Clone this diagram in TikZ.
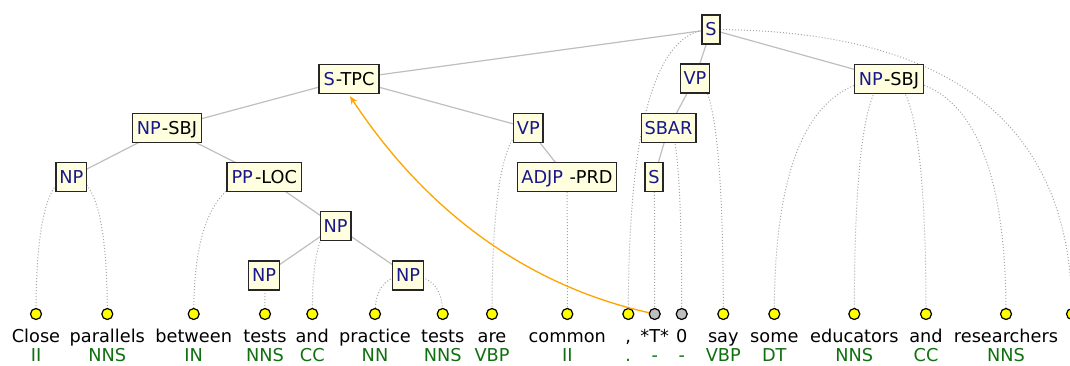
\documentclass[tikz,border=0pt]{standalone}
\usepackage{fontspec}
\setmainfont{DejaVu Sans}
\usetikzlibrary{calc,arrows.meta,backgrounds}

\definecolor{boxfill}{RGB}{255,255,224}
\definecolor{catblue}{RGB}{24,24,140}
\definecolor{taggreen}{RGB}{16,112,16}
\definecolor{treeedge}{RGB}{190,190,190}
\definecolor{leafdot}{RGB}{165,165,165}
\definecolor{tokyellow}{RGB}{255,255,0}
\definecolor{tokgray}{RGB}{190,190,190}
\definecolor{tracearrow}{RGB}{255,165,0}

% category label in blue, function tag in black
\newcommand\catlabel[3][0.8pt]{\textcolor{catblue}{#2}\hspace{#1}#3}
\newcommand\catonly[1]{\textcolor{catblue}{#1}}

\tikzset{
  constituent/.style={draw=black!85, line width=1.1pt, fill=boxfill,
    inner xsep=2.5pt, inner ysep=0pt, minimum height=21.75pt,
    text height=9.7pt, text depth=0pt, font=\fontsize{13.3}{16}\selectfont},
  tagged/.style={constituent, inner xsep=3.5pt},
  token/.style={circle, draw=black, line width=0.9pt, fill=tokyellow,
    minimum size=8.25pt, inner sep=0pt},
  emptytoken/.style={token, fill=tokgray},
  word/.style={anchor=base, inner sep=0pt, text depth=0pt,
    font=\fontsize{13.3}{16}\selectfont},
  postag/.style={word, text=taggreen},
  branch/.style={draw=treeedge, line width=0.9pt},
  leafline/.style={draw=leafdot, line width=0.75pt, dash pattern=on 0.75pt off 1.5pt},
  trace/.style={draw=tracearrow, line width=1pt, -{Stealth[length=6pt,width=5pt]}}
}

% token: circle, word and part-of-speech tag
\newcommand\tok[5]{%
  \node[#5] (#1) at (#2,-314) {};
  \node[word] (#1w) at (#2,-342) {#3};
  \node[postag] (#1p) at (#2,-361.5) {#4};
}

% dotted curve from a constituent down to one of its tokens
\newcommand\leafcurve[2]{%
  \draw[leafline] (#1.center) .. controls ($(#1.center)!0.6667!(#2.center |- #1.center)$)
    and ($(#2.center)!0.6667!(#2.center |- #1.center)$) .. (#2.center);}

\begin{document}
\begin{tikzpicture}[x=0.75pt, y=0.75pt]
\useasboundingbox (0,0) rectangle (1070,-365);

% constituents
\node[constituent] (s)      at (711,-29.5)  {\catonly{S}};
\node[tagged]      (stpc)   at (349,-79)    {\catlabel{S}{-TPC}};
\node[constituent] (vpa)    at (695,-78.5)  {\catonly{VP}};
\node[tagged]      (npsbjr) at (889,-79)    {\catlabel{NP}{-SBJ}};
\node[tagged]      (npsbjl) at (167,-128)   {\catlabel{NP}{-SBJ}};
\node[constituent] (vpb)    at (528.3,-128) {\catonly{VP}};
\node[constituent] (sbar)   at (668.5,-128) {\catonly{SBAR}};
\node[constituent] (npa)    at (71.3,-177)  {\catonly{NP}};
\node[tagged]      (pploc)  at (264.3,-177) {\catlabel[1.6pt]{PP}{-LOC}};
\node[constituent, inner xsep=3pt] (adjp) at (567,-177) {\catlabel[4.8pt]{ADJP}{-PRD}};
\node[constituent] (sin)    at (654,-177)   {\catonly{S}};
\node[constituent] (npb)    at (335.7,-226) {\catonly{NP}};
\node[constituent] (npc)    at (264,-275.3) {\catonly{NP}};
\node[constituent] (npd)    at (408,-275.3) {\catonly{NP}};

% tokens
\tok{t1}{36}{Close}{II}{token}
\tok{t2}{107.3}{parallels}{NNS}{token}
\tok{t3}{193.7}{between}{IN}{token}
\tok{t4}{265}{tests}{NNS}{token}
\tok{t5}{312.3}{and}{CC}{token}
\tok{t6}{375}{practice}{NN}{token}
\tok{t7}{442.7}{tests}{NNS}{token}
\tok{t8}{492}{are}{VBP}{token}
\tok{t9}{567.3}{common}{II}{token}
\tok{t10}{628.3}{,}{.}{token}
\tok{t11}{654.7}{*T*}{-}{emptytoken}
\tok{t12}{681.7}{0}{-}{emptytoken}
\tok{t13}{723.3}{say}{VBP}{token}
\tok{t14}{774.3}{some}{DT}{token}
\tok{t15}{854.3}{educators}{NNS}{token}
\tok{t16}{926}{and}{CC}{token}
\tok{t17}{1006}{researchers}{NNS}{token}
\node[token] (t18) at (1072,-314) {};

\begin{scope}[on background layer]
  % branches between constituents
  \draw[branch] (s.center) -- (stpc.center);
  \draw[branch] (s.center) -- (vpa.center);
  \draw[branch] (s.center) -- (npsbjr.center);
  \draw[branch] (stpc.center) -- (npsbjl.center);
  \draw[branch] (stpc.center) -- (vpb.center);
  \draw[branch] (npsbjl.center) -- (npa.center);
  \draw[branch] (npsbjl.center) -- (pploc.center);
  \draw[branch] (pploc.center) -- (npb.center);
  \draw[branch] (npb.center) -- (npc.center);
  \draw[branch] (npb.center) -- (npd.center);
  \draw[branch] (vpb.center) -- (adjp.center);
  \draw[branch] (vpa.center) -- (sbar.center);
  \draw[branch] (sbar.center) -- (sin.center);
  % constituents to tokens
  \leafcurve{npa}{t1}
  \leafcurve{npa}{t2}
  \leafcurve{pploc}{t3}
  \leafcurve{npc}{t4}
  \leafcurve{npb}{t5}
  \leafcurve{npd}{t6}
  \leafcurve{npd}{t7}
  \leafcurve{vpb}{t8}
  \leafcurve{adjp}{t9}
  \leafcurve{s}{t10}
  \leafcurve{sin}{t11}
  \leafcurve{sbar}{t12}
  \leafcurve{vpa}{t13}
  \leafcurve{npsbjr}{t14}
  \leafcurve{npsbjr}{t15}
  \leafcurve{npsbjr}{t16}
  \leafcurve{npsbjr}{t17}
  \leafcurve{s}{t18}
\end{scope}

% trace link from the empty element to the topicalised clause
\draw[trace] (t11) .. controls +(-125,28) and +(78,-118) .. ($(stpc.south)+(1,-2)$);
\end{tikzpicture}
\end{document}
